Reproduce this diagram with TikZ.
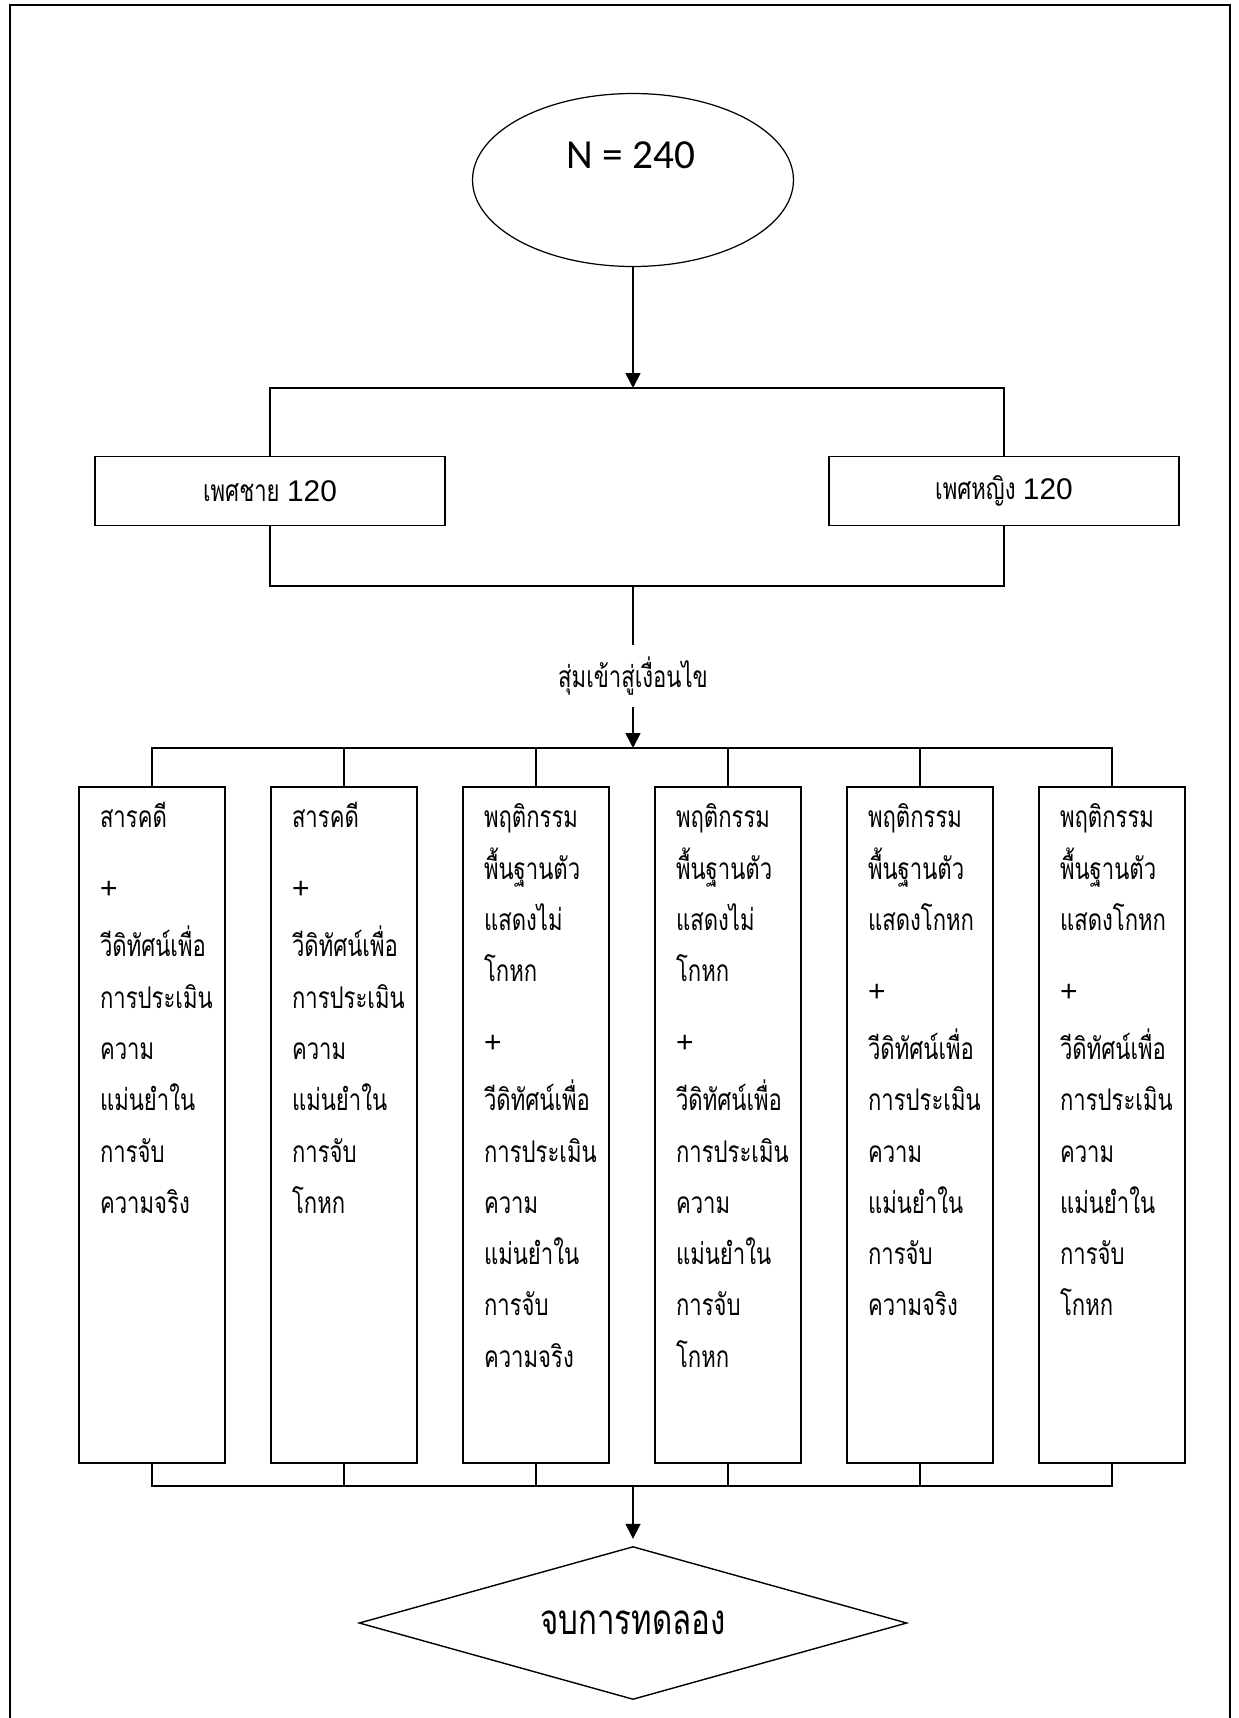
\documentclass[tikz,border=0pt]{standalone}
\usepackage{fontspec}
\setmainfont{Liberation Sans}
\newfontfamily\thai[Script=Thai, FakeStretch=0.74]{Loma}
\newfontfamily\calib{Carlito}
\usetikzlibrary{shapes.geometric, arrows.meta, positioning}
\tikzset{
>={Triangle[length=3mm,width=3mm]}, % filled arrow heads
every node/.style={font=\thai},
startell/.style={draw, ellipse, line width=0.7pt, minimum width=6.42cm, minimum height=3.46cm, inner sep=0pt}, % the N ellipse
grpbox/.style={draw, fill=white, line width=1pt, minimum width=7cm, minimum height=1.38cm, inner sep=0pt, font=\thai\fontsize{17pt}{20pt}\selectfont},
colbox/.style={draw, fill=white, line width=1pt, minimum width=2.92cm, minimum height=13.52cm, inner sep=0pt, anchor=north, font=\thai\fontsize{17pt}{29.2pt}\selectfont},
endbox/.style={draw, diamond, aspect=3.58, line width=0.8pt, minimum width=10.96cm, minimum height=3.06cm, inner sep=0pt, font=\thai\fontsize{24pt}{28pt}\selectfont},
link/.style={line width=1pt},
}
% text of one column box, top aligned
\newcommand{\colpar}[1]{\parbox[c][13.12cm][t]{2.08cm}{\rule{0pt}{0.62cm}#1}}
\newcommand{\plusline}{\\[11pt]{\rmfamily +}\\[4pt]}

\begin{document}
\begin{tikzpicture}[x=0.02cm,y=-0.02cm]
\useasboundingbox (0,0) rectangle (1238,1718);
% page frame (open at the bottom)
\draw[line width=1.2pt] (10,1725) -- (10,5) -- (1230,5) -- (1230,1725);

\node[startell] (start) at (633,180) {};
\node[font=\calib\fontsize{23.5pt}{27pt}\selectfont] (startlbl) at (631,155) {N = 240};

\node[grpbox] (male) at (270,491) {เพศชาย {\rmfamily 120}};
\node[grpbox] (female) at (1004,491) {เพศหญิง {\rmfamily 120}};
\coordinate (splittop) at (633,388);
\coordinate (splitbot) at (633,586);
\draw[link] (male.north) |- (splittop) -| (female.north);
\draw[link] (male.south) |- (splitbot) -| (female.south);
\draw[link,->] (start) -- (splittop);

\node[minimum height=1.24cm, inner sep=0pt, font=\thai\fontsize{17pt}{20pt}\selectfont] (rand) at (633,676) {สุ่มเข้าสู่เงื่อนไข};
\draw[link] (splitbot) -- (rand.north);

\node[colbox] (col1) at (152,786) {\colpar{สารคดี\plusline วีดิทัศน์เพื่อ\\การประเมิน\\ความ\\แม่นยำใน\\การจับ\\ความจริง}};
\node[colbox] (col2) at (344,786) {\colpar{สารคดี\plusline วีดิทัศน์เพื่อ\\การประเมิน\\ความ\\แม่นยำใน\\การจับ\\โกหก}};
\node[colbox] (col3) at (536,786) {\colpar{พฤติกรรม\\พื้นฐานตัว\\แสดงไม่\\โกหก\plusline วีดิทัศน์เพื่อ\\การประเมิน\\ความ\\แม่นยำใน\\การจับ\\ความจริง}};
\node[colbox] (col4) at (728,786) {\colpar{พฤติกรรม\\พื้นฐานตัว\\แสดงไม่\\โกหก\plusline วีดิทัศน์เพื่อ\\การประเมิน\\ความ\\แม่นยำใน\\การจับ\\โกหก}};
\node[colbox] (col5) at (920,786) {\colpar{พฤติกรรม\\พื้นฐานตัว\\แสดงโกหก\plusline วีดิทัศน์เพื่อ\\การประเมิน\\ความ\\แม่นยำใน\\การจับ\\ความจริง}};
\node[colbox] (col6) at (1112,786) {\colpar{พฤติกรรม\\พื้นฐานตัว\\แสดงโกหก\plusline วีดิทัศน์เพื่อ\\การประเมิน\\ความ\\แม่นยำใน\\การจับ\\โกหก}};

% bus above and below the columns
\coordinate (bustop) at (633,748);
\coordinate (busbot) at (633,1486);
\draw[link] (col1.north) |- (bustop) -| (col6.north);
\draw[link] (col1.south) |- (busbot) -| (col6.south);
\foreach \c in {col2,col3,col4,col5}
  \draw[link] (\c.north) -- (\c.north |- bustop) (\c.south) -- (\c.south |- busbot);
\draw[link,->] (rand) -- (bustop);

\node[endbox] (finish) at (633,1623) {จบการทดลอง};
\draw[link,->,shorten >=4pt] (busbot) -- (finish);
\end{tikzpicture}
\end{document}
